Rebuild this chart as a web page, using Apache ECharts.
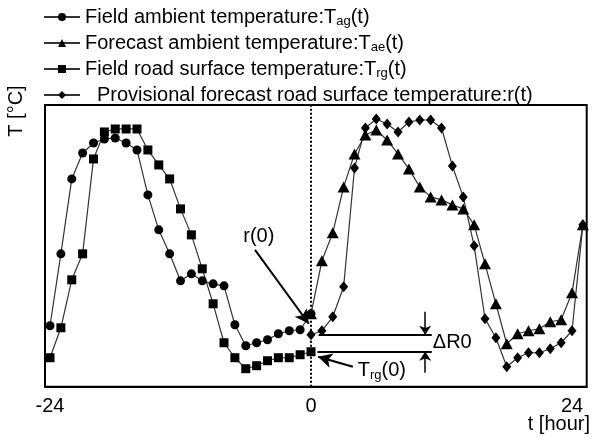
<!DOCTYPE html>
<html>
<head>
<meta charset="utf-8">
<script src="https://cdn.jsdelivr.net/npm/echarts@6/dist/echarts.min.js"></script>
<style>
  html, body { margin: 0; padding: 0; background: #fff; }
  #chart { width: 607px; height: 439px; }
</style>
</head>
<body>
<div id="chart"></div>
<script>
// hours, measured part (-24..0) and forecast part (0..25)
const pastHours = [-24,-23,-22,-21,-20,-19,-18,-17,-16,-15,-14,-13,-12,-11,-10,-9,-8,-7,-6,-5,-4,-3,-2,-1,0]
const futureHours = [0,1,2,3,4,5,6,7,8,9,10,11,12,13,14,15,16,17,18,19,20,21,22,23,24,25]

// temperatures (no scale printed on the axis, read as relative values)
const tag = [6.1,13.3,20.8,23.4,24.4,24.8,24.9,24.4,23.7,19.2,15.7,13.3,10.6,11.3,10.6,10.3,10.1,6.2,4.1,4.4,4.7,5.3,5.6,5.7,7.3]
const trg = [2.9,5.9,10.7,13.3,22.8,25.5,25.8,25.8,25.8,23.7,22.2,20.8,17.8,15.2,11.8,8.3,4.4,2.9,1.8,2.1,2.6,2.9,2.9,3.2,3.5]
const tae = [7.3,12.6,15.4,20.0,23.3,25.2,25.7,24.7,23.3,21.8,20.0,19.0,18.7,18.2,17.8,16.2,12.3,8.3,4.3,5.3,5.6,5.8,6.5,6.7,9.4,16.2]
const rt  = [5.2,5.6,7.0,10.0,21.9,25.9,26.8,26.3,25.5,26.5,26.7,26.7,25.9,22.1,19.0,14.1,6.8,4.9,2.0,2.9,3.4,3.4,3.8,4.4,5.6,16.2]

const tickLabels = [-24, 0, 24]

const names = [
  'Field ambient temperature:Tag(t)',
  'Forecast ambient temperature:Tae(t)',
  'Field road surface temperature:Trg(t)',
  'Provisional forecast road surface temperature:r(t)'
]
const richNames = {
  [names[0]]: '{n|Field ambient temperature:T}{s|ag}{n|(t)}',
  [names[1]]: '{n|Forecast ambient temperature:T}{s|ae}{n|(t)}',
  [names[2]]: '{n|Field road surface temperature:T}{s|rg}{n|(t)}',
  [names[3]]: '{p|}{n|Provisional forecast road surface temperature:r(t)}'
}

function pairs(xs, ys) {
  return xs.map((x, i) => [x, ys[i]])
}

const FONT = 'Liberation Sans, Arial, sans-serif'
const lineCol = '#333'

let chart = echarts.init(document.getElementById('chart'))

function mkSeries(name, data, symbol, size) {
  return {
    name: name,
    type: 'line',
    data: data,
    symbol: symbol,
    symbolSize: size,
    showAllSymbol: true,
    lineStyle: { color: lineCol, width: 1.2 },
    itemStyle: { color: '#000' },
    z: 3
  }
}

const arrowLine = (a, b, w, sz) => [
  { coord: a, symbol: 'none', lineStyle: { color: '#000', width: w, type: 'solid' } },
  { coord: b, symbol: 'arrow', symbolSize: sz }
]
const plainLine = (a, b, w) => [
  { coord: a, symbol: 'none', lineStyle: { color: '#000', width: w, type: 'solid' } },
  { coord: b, symbol: 'none' }
]

let series = [
  mkSeries(names[0], pairs(pastHours, tag), 'circle', 9),
  mkSeries(names[1], pairs(futureHours, tae), 'triangle', [12, 11]),
  mkSeries(names[2], pairs(pastHours, trg), 'rect', 9),
  mkSeries(names[3], pairs(futureHours, rt), 'diamond', [9, 11])
]

// dotted line at t = 0
series[0].markLine = {
  silent: true,
  animation: false,
  label: { show: false },
  symbol: ['none', 'none'],
  lineStyle: { color: '#000', width: 2, type: [2, 2] },
  data: [{ xAxis: 0 }]
}

// r(0) / Trg(0) arrows and the ΔR0 marker
series[3].markLine = {
  silent: true,
  animation: false,
  label: { show: false },
  symbol: ['none', 'none'],
  data: [
    arrowLine([-5.15, 13.7], [-0.2, 6.3], 2, [11, 14]),
    arrowLine([3.85, 2.0], [0.65, 3.0], 2, [11, 14]),
    plainLine([0.7, rt[0]], [11.1, rt[0]], 2),
    plainLine([0.6, trg[trg.length - 1]], [11.1, trg[trg.length - 1]], 2),
    arrowLine([10.5, 7.5], [10.5, rt[0]], 1.5, [9, 9]),
    arrowLine([10.5, 1.4], [10.5, trg[trg.length - 1]], 1.5, [9, 9])
  ]
}

let option = {
  animation: false,
  backgroundColor: '#fff',
  textStyle: { fontFamily: FONT, color: '#000' },
  grid: {
    left: 45, top: 105, width: 541.7, height: 281.7,
    show: true, borderColor: '#000', borderWidth: 2, backgroundColor: 'transparent'
  },
  legend: {
    orient: 'vertical',
    left: 38,
    top: 2,
    itemWidth: 36,
    itemHeight: 10,
    itemGap: 5,
    data: names,
    formatter: name => richNames[name],
    textStyle: {
      fontFamily: FONT,
      color: '#000',
      rich: {
        n: { fontSize: 20, lineHeight: 22, fontFamily: FONT, color: '#000' },
        s: { fontSize: 13, lineHeight: 9, verticalAlign: 'bottom', fontFamily: FONT, color: '#000' },
        p: { width: 12 }
      }
    }
  },
  xAxis: {
    type: 'value',
    min: -24.46,
    max: 25.35,
    axisLine: { show: true, onZero: false, lineStyle: { color: '#000', width: 2 } },
    axisTick: { show: false },
    splitLine: { show: false },
    axisLabel: {
      customValues: tickLabels,
      fontSize: 20,
      fontFamily: FONT,
      color: '#000',
      margin: 10
    }
  },
  yAxis: {
    type: 'value',
    min: 0,
    max: 28.2,
    axisLine: { show: true, onZero: false, lineStyle: { color: '#000', width: 2 } },
    axisTick: { show: false },
    axisLabel: { show: false },
    splitLine: { show: false }
  },
  series: series
}

chart.setOption(option)

// text annotations placed through the grid's scales
const px = p => chart.convertToPixel({ gridIndex: 0 }, p)
const pR0 = px([-4.8, 15.0])
const pTrg = px([4.3, 1.6])
const pDR = px([11.2, 4.4])

chart.setOption({
  graphic: [
    {
      type: 'text', x: 16, y: 111, rotation: Math.PI / 2,
      style: { text: 'T [°C]', font: '20px ' + FONT, fill: '#000', align: 'center', verticalAlign: 'middle' }
    },
    {
      type: 'text', x: 590, y: 424,
      style: { text: 't [hour]', font: '20px ' + FONT, fill: '#000', align: 'right', verticalAlign: 'middle' }
    },
    {
      type: 'text', x: pR0[0], y: pR0[1],
      style: { text: 'r(0)', font: '20px ' + FONT, fill: '#000', align: 'center', verticalAlign: 'middle' }
    },
    {
      type: 'text', x: pTrg[0], y: pTrg[1],
      style: {
        text: '{n|T}{s|rg}{n|(0)}', align: 'left', verticalAlign: 'middle',
        rich: {
          n: { fontSize: 20, lineHeight: 22, fontFamily: FONT, fill: '#000' },
          s: { fontSize: 13, lineHeight: 9, verticalAlign: 'bottom', fontFamily: FONT, fill: '#000' }
        }
      }
    },
    {
      type: 'text', x: pDR[0], y: pDR[1],
      style: { text: 'ΔR0', font: '20px ' + FONT, fill: '#000', align: 'left', verticalAlign: 'middle' }
    }
  ]
})
</script>
</body>
</html>
